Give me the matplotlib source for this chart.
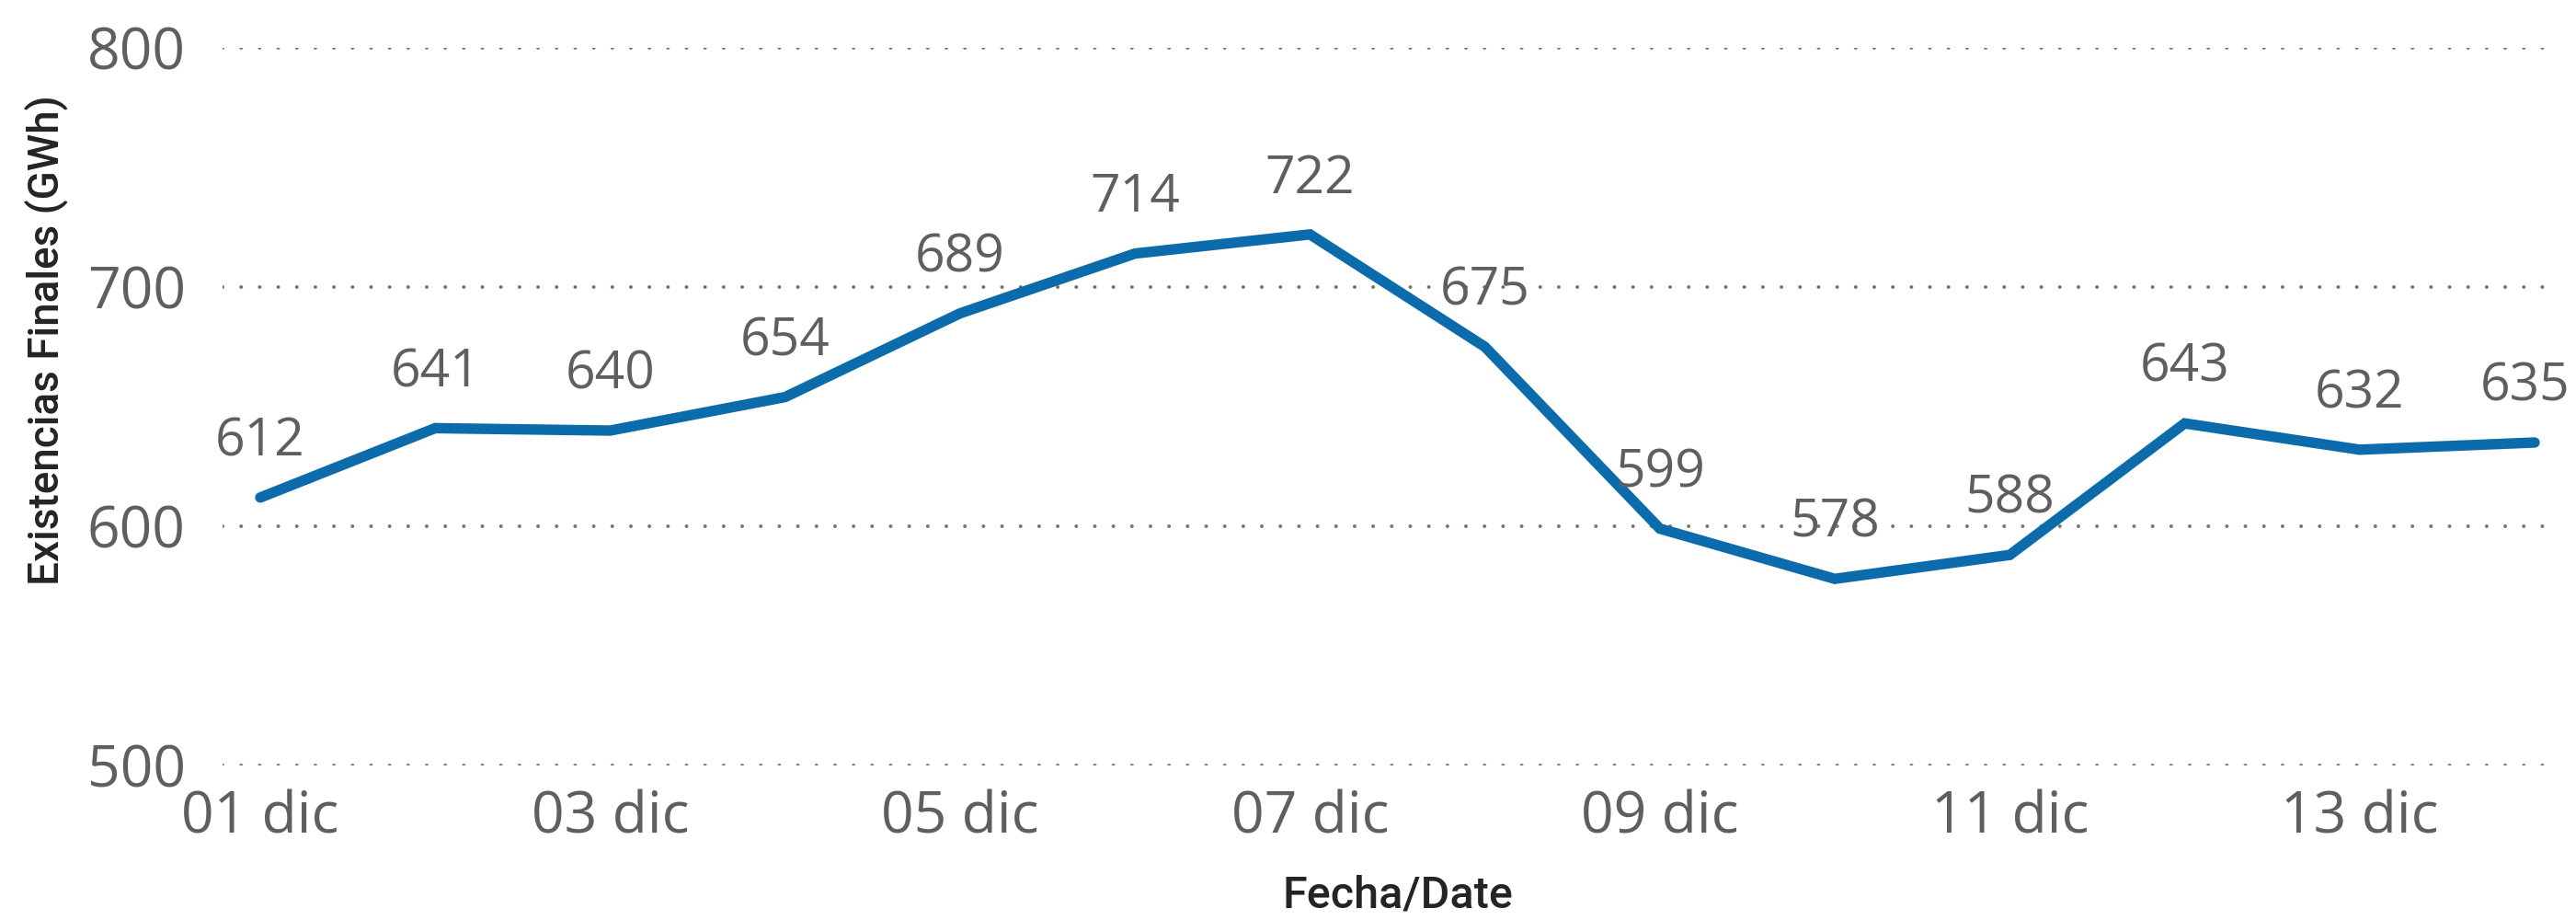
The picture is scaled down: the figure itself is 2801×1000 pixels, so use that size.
import matplotlib
matplotlib.use("Agg")
import matplotlib.pyplot as plt

# ---- data ----
days = [1, 2, 3, 4, 5, 6, 7, 8, 9, 10, 11, 12, 13, 14]
values = [612, 641, 640, 654, 689, 714, 722, 675, 599, 578, 588, 643, 632, 635]
tick_days = [1, 3, 5, 7, 9, 11, 13]
tick_labels = ["01 dic", "03 dic", "05 dic", "07 dic", "09 dic", "11 dic", "13 dic"]
y_ticks = [500, 600, 700, 800]
x_title = "Fecha/Date"
y_title = "Existencias Finales (GWh)"

W, H, DPI = 2801, 1000, 100
fig = plt.figure(figsize=(W / DPI, H / DPI), dpi=DPI)

# axes placement (pixels)
ax_left, ax_right = 242, 2783
ax_top, ax_bottom = 52, 832
ax = fig.add_axes([ax_left / W, 1 - ax_bottom / H, (ax_right - ax_left) / W, (ax_bottom - ax_top) / H])

# x-range: day 1 at 283 px, day 14 at 2756 px
px_per_day = (2756 - 283) / 13
x0 = 1 - (283 - ax_left) / px_per_day
x1 = 14 + (ax_right - 2756) / px_per_day
ax.set_xlim(x0, x1)
ax.set_ylim(500, 800)

line_color = "#0c6cab"
text_color = "#5f5f5f"
title_color = "#252423"
grid_color = "#77776a"

ax.plot(days, values, color=line_color, lw=8.2, solid_capstyle="round",
        solid_joinstyle="miter", clip_on=False, zorder=3)

n = len(days)
for i, (d, v) in enumerate(zip(days, values)):
    if i == n - 1:
        ha, dx = "right", 28
    else:
        ha, dx = "center", 0
    ax.annotate(f"{v}", xy=(d, v), xytext=(dx, 43), textcoords="offset points",
                ha=ha, va="center", fontsize=41, color=text_color,
                family="Open Sans", zorder=4, annotation_clip=False)

ax.set_yticks(y_ticks)
ax.set_yticklabels([str(t) for t in y_ticks], fontsize=45, color=text_color, family="Open Sans")
ax.set_xticks(tick_days)
ax.set_xticklabels(tick_labels, fontsize=45, color=text_color, family="Open Sans")
ax.tick_params(axis="both", length=0)
ax.tick_params(axis="y", pad=29)
ax.tick_params(axis="x", pad=19)

ax.grid(axis="y", color=grid_color, lw=2.9, linestyle=(0, (0.01, 5)), dash_capstyle="round")
ax.grid(axis="x", visible=False)
for s in ax.spines.values():
    s.set_visible(False)
ax.set_axisbelow(True)

fig.text(1520 / W, 1 - 973 / H, x_title, ha="center", va="center", fontsize=35,
         color=title_color, family="Roboto", fontweight="medium")
fig.text(50 / W, 1 - 370 / H, y_title, ha="center", va="center", rotation=90,
         fontsize=33, color=title_color, family="Roboto", fontweight="medium")

fig.savefig("out.png", dpi=DPI, facecolor="white")
